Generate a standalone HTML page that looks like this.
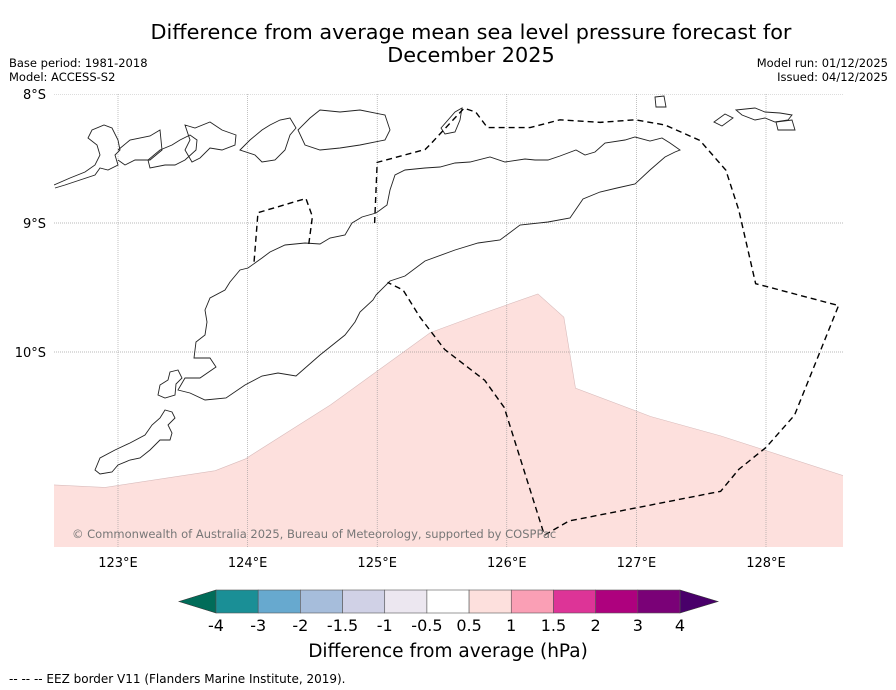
<!DOCTYPE html>
<html><head><meta charset="utf-8">
<style>
body{margin:0;background:#fff;font-family:"DejaVu Sans","Liberation Sans",sans-serif;}
svg{display:block}
</style></head>
<body>
<svg width="896" height="690" viewBox="0 0 896 690" xmlns="http://www.w3.org/2000/svg">
<text x="471" y="39" font-size="20.8" text-anchor="middle">Difference from average mean sea level pressure forecast for</text>
<text x="471" y="62" font-size="20.8" text-anchor="middle">December 2025</text>
<text x="9" y="67" font-size="11.5">Base period: 1981-2018</text>
<text x="9" y="81" font-size="11.5">Model: ACCESS-S2</text>
<text x="888" y="67" font-size="11.5" text-anchor="end">Model run: 01/12/2025</text>
<text x="888" y="81" font-size="11.5" text-anchor="end">Issued: 04/12/2025</text>
<defs><clipPath id="mapclip"><rect x="54" y="94" width="789" height="453"/></clipPath></defs>
<g id="map" clip-path="url(#mapclip)">
  <g id="anom"></g>
  <g id="grid"></g>
  <g fill="none" stroke="#222" stroke-width="0.9">
    <path d="M376,295 L390,281 L405,276 L425,261 L455,250 L478,243 L500,240 L520,225 L548,222 L570,218 L583,199 L600,192 L617,188 L635,184 L650,170 L665,157 L675,152 L680,150 L670,143 L662,138 L650,141 L635,137 L625,140 L605,143 L595,152 L585,155 L576,150 L560,156 L548,160 L535,160 L525,159 L505,162 L490,157 L470,162 L455,163 L440,167 L425,168 L405,170 L395,175 L390,190 L387,205 L376,213 L362,217 L352,223 L345,235 L330,238 L320,244 L305,243 L285,245 L270,252 L262,258 L248,268 L240,270 L230,282 L225,290 L210,298 L205,310 L207,322 L205,335 L196,342 L194,358 L210,358 L216,367 L200,378 L185,378 L178,390 L190,393 L205,400 L226,398 L245,385 L262,376 L278,373 L296,376 L320,355 L345,335 L355,322 L360,312 L373,300 Z"/>
    <path d="M95,470 L100,458 L115,450 L130,443 L145,435 L152,425 L160,418 L165,410 L172,412 L175,418 L168,425 L172,433 L170,440 L160,440 L150,450 L140,458 L130,460 L118,465 L112,472 L100,474 Z"/>
    <path d="M158,395 L160,385 L168,380 L170,372 L178,370 L182,378 L176,384 L175,395 L165,398 Z"/>
    <path d="M54,185 L70,178 L85,172 L95,165 L100,155 L97,145 L88,138 L92,130 L104,125 L112,128 L118,140 L120,150 L115,155 L118,165 L108,170 L100,168 L95,175 L80,180 L65,185 L55,188"/>
    <path d="M118,150 L130,140 L150,136 L160,130 L162,150 L150,160 L135,160 L125,165 L118,160"/>
    <path d="M160,150 L172,145 L180,140 L190,135 L197,140 L196,150 L185,160 L175,165 L165,165 L150,168 L148,160 Z"/>
    <path d="M185,125 L195,128 L210,122 L222,130 L236,135 L235,145 L222,150 L210,148 L200,158 L192,162 L185,150 L190,140 Z"/>
    <path d="M240,150 L250,140 L262,130 L270,125 L280,120 L290,118 L296,128 L290,135 L285,150 L275,160 L262,162 L255,155 Z"/>
    <path d="M298,130 L310,118 L320,110 L340,112 L360,110 L385,115 L390,130 L385,140 L360,145 L340,148 L320,150 L305,145 Z"/>
    <path d="M441,128 L455,112 L462,108 L460,120 L455,132 L445,134 Z"/>
    <path d="M655,97 L664,96 L666,107 L656,107 Z"/>
    <path d="M736,110 L755,108 L765,112 L780,113 L792,115 L788,120 L775,122 L765,118 L755,120 L742,115 Z"/>
    <path d="M714,122 L725,114 L733,118 L722,126 Z"/>
    <path d="M776,122 L792,120 L795,130 L778,130 Z"/>
  </g>
  <g id="eez" fill="none" stroke="#000" stroke-width="1.4" stroke-dasharray="6,4"></g>
</g>
<text x="72" y="538" font-size="11.5" fill="#777">© Commonwealth of Australia 2025, Bureau of Meteorology, supported by COSPPac</text>
<g id="axes"></g>
<g id="cbar"></g>
<text x="448" y="657" font-size="18.5" text-anchor="middle">Difference from average (hPa)</text>
<text x="9" y="683" font-size="12">--  --  -- EEZ border V11 (Flanders Marine Institute, 2019).</text>
<script>
const lonTicks=[123,124,125,126,127,128];
const latTicks=[8,9,10];
const lonTickLabels=["123°E","124°E","125°E","126°E","127°E","128°E"];
const latTickLabels=["8°S","9°S","10°S"];
const anomLon=[122.5,122.9,123.75,123.98,124.64,125.41,125.76,126.24,126.44,126.53,127.11,127.65,128.6,128.6,122.5];
const anomLat=[11.03,11.05,10.92,10.83,10.41,9.85,9.72,9.55,9.73,10.28,10.5,10.65,10.96,11.6,11.6];
const eezLon=[124.98,125.0,125.37,125.41,125.67,125.76,125.85,126.18,126.41,126.72,126.99,127.22,127.49,127.69,127.79,127.92,128.56,128.22,128.0,127.79,127.65,126.48,126.29,125.98,125.83,125.52,125.33,125.2,125.08];
const eezLat=[9.0,8.53,8.43,8.39,8.11,8.14,8.26,8.26,8.2,8.22,8.2,8.24,8.36,8.59,8.9,9.47,9.64,10.49,10.74,10.91,11.08,11.31,11.42,10.43,10.22,9.98,9.73,9.52,9.46];
const eez2Lon=[124.05,124.08,124.45,124.5,124.47];
const eez2Lat=[9.3,8.92,8.81,8.95,9.18];
const cbLabels=["-4","-3","-2","-1.5","-1","-0.5","0.5","1","1.5","2","3","4"];
const cbColors=["#1a8f96","#67a9cf","#a6bddb","#d0d1e6","#ece7f0","#ffffff","#fde0dd","#fa9fb5","#dd3497","#ae017e","#7a0177"];
const anomColor="#fde0dd";
const NS="http://www.w3.org/2000/svg";
function X(lon){return 118+(lon-123)*129.6;}
function Y(lat){return 94+(lat-8)*129;}
function mk(t,a,p){const e=document.createElementNS(NS,t);for(const k in a)e.setAttribute(k,a[k]);p.appendChild(e);return e;}
const anom=document.getElementById('anom');
const poly=mk('polygon',{points:anomLon.map((l,i)=>X(l)+','+Y(anomLat[i])).join(' '),fill:anomColor,stroke:"#d9bcbc","stroke-width":0.6},anom);


const grid=document.getElementById('grid');
lonTicks.forEach(l=>{const g=mk('line',{x1:X(l),x2:X(l),y1:94,y2:547,stroke:"#999","stroke-width":0.6,"stroke-dasharray":"1,1"},grid);

});
latTicks.forEach(l=>{const g=mk('line',{x1:54,x2:843,y1:Y(l),y2:Y(l),stroke:"#777","stroke-width":0.6,"stroke-dasharray":"1,1"},grid);

});
const eez=document.getElementById('eez');
const e1=mk('polyline',{points:eezLon.map((l,i)=>X(l)+','+Y(eezLat[i])).join(' ')},eez);


const e2=mk('polyline',{points:eez2Lon.map((l,i)=>X(l)+','+Y(eez2Lat[i])).join(' ')},eez);


const axes=document.getElementById('axes');
lonTicks.forEach((l,i)=>{const t=mk('text',{x:X(l),y:567,"font-size":13,"text-anchor":"middle"},axes);t.textContent=lonTickLabels[i];

});
latTicks.forEach((l,i)=>{const t=mk('text',{x:46,y:Y(l)+5,"font-size":13,"text-anchor":"end"},axes);t.textContent=latTickLabels[i];

});
const cb=document.getElementById('cbar');
const x0=216,x1=680,w=(x1-x0)/cbColors.length,y0=590,h=23;
const la=mk('polygon',{points:`179,${y0+h/2} ${x0},${y0} ${x0},${y0+h}`,fill:"#016c59",stroke:"#333","stroke-width":0.6},cb);


const ra=mk('polygon',{points:`718,${y0+h/2} ${x1},${y0} ${x1},${y0+h}`,fill:"#49006a",stroke:"#333","stroke-width":0.6},cb);


cbColors.forEach((c,i)=>{const r=mk('rect',{x:x0+i*w,y:y0,width:w,height:h,fill:c,stroke:"#555","stroke-width":0.6},cb);

});
cbLabels.forEach((s,i)=>{const t=mk('text',{x:x0+i*w,y:631,"font-size":16,"text-anchor":"middle"},cb);t.textContent=s;

});
</script>
</svg>
</body></html>
